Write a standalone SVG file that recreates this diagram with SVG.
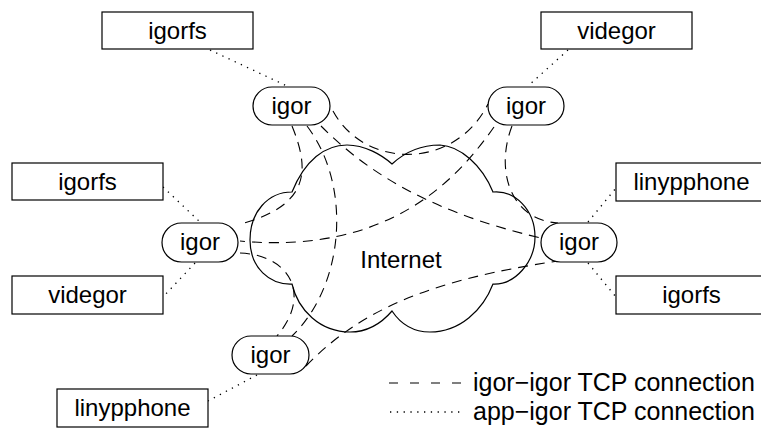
<svg xmlns="http://www.w3.org/2000/svg" width="761" height="429" viewBox="0 0 761 429">
  <style>
    text { font-family: "Liberation Sans", Arial, sans-serif; font-size: 24px; fill: #000; text-anchor: middle; }
    .box { fill: #fff; stroke: #000; stroke-width: 1.2; }
    .cloud { fill: #fff; stroke: #000; stroke-width: 1.2; }
    .tcp { fill: none; stroke: #000; stroke-width: 1.1; stroke-dasharray: 10 7; }
    .app { fill: none; stroke: #000; stroke-width: 1.3; stroke-dasharray: 1.3 5.5; }
    .legend-tcp { fill: none; stroke: #000; stroke-width: 1.1; stroke-dasharray: 9 12; }
    .legend text { text-anchor: start; font-size: 25px; }
  </style>

  <!-- Internet cloud -->
  <g id="internet">
    <path class="cloud" d="M292,192 C305,160 325,145 347,145 C365,145 382,155 392,164 C405,152 420,145 440,145 C460,146 482,165 493,192 C515,190 535,210 535,237 C535,262 515,285 493,284 C483,310 460,332 430,332 C410,332 398,320 392,311 C380,325 365,332 350,332 C320,332 298,310 292,284 C270,285 250,268 250,240 C250,212 268,192 292,192 Z"/>
    <text x="401" y="268">Internet</text>
  </g>

  <!-- connections -->
  <g id="connectors">
    <!-- igor-igor -->
    <path class="tcp" d="M333,111 C365,170 455,170 488,104"/>
    <path class="tcp" d="M292,126 C310,170 310,205 241,224"/>
    <path class="tcp" d="M321,126 C360,165 420,210 541,238"/>
    <path class="tcp" d="M307,126 C352,185 345,285 292,336"/>
    <path class="tcp" d="M494,127 C458,178 390,255 240,241"/>
    <path class="tcp" d="M512,126 C495,170 510,220 558,223"/>
    <path class="tcp" d="M240,253 C290,255 312,295 277,336"/>
    <path class="tcp" d="M306,366 C360,310 430,280 558,261"/>
    <!-- app-igor -->
    <path class="app" d="M210,50 L287,86"/>
    <path class="app" d="M568,50 L528,86"/>
    <path class="app" d="M163,187 L200,222"/>
    <path class="app" d="M195,263 L163,297"/>
    <path class="app" d="M257,375 L208,401"/>
    <path class="app" d="M588,222 L616,188"/>
    <path class="app" d="M588,263 L616,297"/>
  </g>

  <!-- igor daemons -->
  <g id="igor-a">
    <rect class="box" x="253" y="87" width="77" height="38" rx="19" ry="19"/>
    <text x="291.5" y="114">igor</text>
  </g>
  <g id="igor-b">
    <rect class="box" x="488" y="87" width="76" height="38" rx="19" ry="19"/>
    <text x="526" y="114">igor</text>
  </g>
  <g id="igor-c">
    <rect class="box" x="162" y="223" width="76" height="39" rx="19.5" ry="19.5"/>
    <text x="200" y="250">igor</text>
  </g>
  <g id="igor-d">
    <rect class="box" x="541" y="223" width="76" height="39" rx="19.5" ry="19.5"/>
    <text x="579" y="250">igor</text>
  </g>
  <g id="igor-e">
    <rect class="box" x="232" y="336" width="77" height="38" rx="19" ry="19"/>
    <text x="270.5" y="363">igor</text>
  </g>

  <!-- applications -->
  <g id="app-igorfs-top">
    <rect class="box" x="102" y="12" width="151" height="37"/>
    <text x="177.5" y="39">igorfs</text>
  </g>
  <g id="app-videgor-top">
    <rect class="box" x="541" y="12" width="151" height="37"/>
    <text x="616.5" y="39">videgor</text>
  </g>
  <g id="app-igorfs-left">
    <rect class="box" x="12" y="163" width="151" height="37"/>
    <text x="87.5" y="190">igorfs</text>
  </g>
  <g id="app-videgor-left">
    <rect class="box" x="12" y="276" width="151" height="38"/>
    <text x="87.5" y="303">videgor</text>
  </g>
  <g id="app-linypphone-bottom">
    <rect class="box" x="57" y="389" width="151" height="38"/>
    <text x="132.5" y="416">linypphone</text>
  </g>
  <g id="app-linypphone-right">
    <rect class="box" x="616" y="163" width="151" height="38"/>
    <text x="691.5" y="190">linypphone</text>
  </g>
  <g id="app-igorfs-right">
    <rect class="box" x="616" y="276" width="151" height="38"/>
    <text x="691.5" y="303">igorfs</text>
  </g>

  <!-- legend -->
  <g id="legend" class="legend">
    <line class="legend-tcp" x1="389" y1="383" x2="461" y2="383"/>
    <text x="473" y="391">igor−igor TCP connection</text>
    <line class="app" x1="390" y1="412" x2="463" y2="412"/>
    <text x="473" y="420">app−igor TCP connection</text>
  </g>
</svg>
